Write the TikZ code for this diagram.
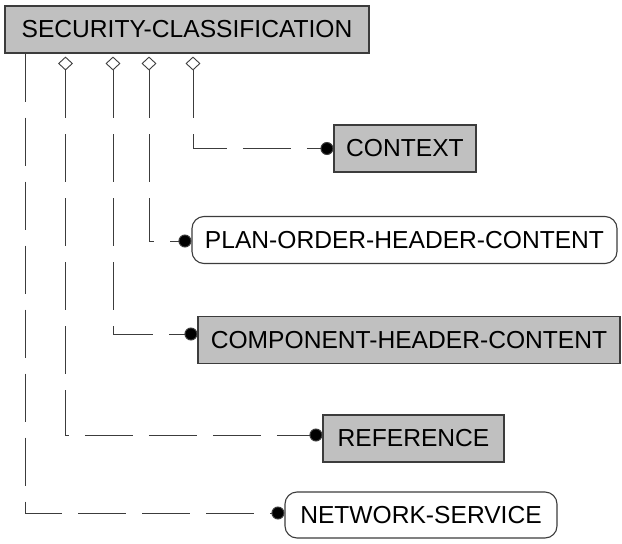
\documentclass[tikz,border=0pt]{standalone}
\usepackage{fontspec}
\setmainfont{Liberation Sans}
\usetikzlibrary{arrows.meta,shapes.geometric}
\definecolor{boxfill}{RGB}{192,192,192}
\definecolor{edge}{RGB}{60,60,60}
\tikzset{
  lbl/.style={font=\fontsize{24.6}{28}\selectfont, inner sep=0pt, minimum height=47pt, line width=1.1pt, draw=edge, text=black},
  gbox/.style={lbl, fill=boxfill},
  rbox/.style={lbl, fill=white, rounded corners=12pt},
  diam/.style={diamond, draw=edge, fill=white, line width=0.9pt, inner sep=0pt, minimum width=14pt, minimum height=13pt},
  conn/.style={draw=edge, line width=1pt, dash pattern=on 48pt off 16pt, -{Circle[length=13pt, fill=black]}},
}
\begin{document}
\begin{tikzpicture}[x=1pt, y=-1pt]
\useasboundingbox (0,0) rectangle (622,544);
\node[gbox, minimum width=364pt] (sc) at (187,29.5) {SECURITY-CLASSIFICATION};
\node[gbox, minimum width=142pt] (ctx) at (405,148.5) {CONTEXT};
\node[rbox, minimum width=425pt] (plan) at (404.5,240) {PLAN-ORDER-HEADER-CONTENT};
\node[gbox, minimum width=422pt] (comp) at (409,340) {COMPONENT-HEADER-CONTENT};
\node[gbox, minimum width=181pt] (ref) at (413.5,438.5) {REFERENCE};
\node[rbox, minimum width=272pt, minimum height=46pt] (net) at (421,515) {NETWORK-SERVICE};
\node[diam] (d1) at (65.5,63.5) {};
\node[diam] (d2) at (113,63.5) {};
\node[diam] (d3) at (149,63.5) {};
\node[diam] (d4) at (193,63.5) {};
\draw[conn] (d4.south) |- (ctx.west);
\draw[conn] (d3.south) |- ([yshift=-1pt]plan.west);
\draw[conn] (d2.south) |- ([yshift=6pt]comp.west);
\draw[conn] (d1.south) |- ([yshift=3.5pt]ref.west);
\draw[conn] ([xshift=21pt]sc.south west) |- ([yshift=2pt]net.west);
\end{tikzpicture}
\end{document}
